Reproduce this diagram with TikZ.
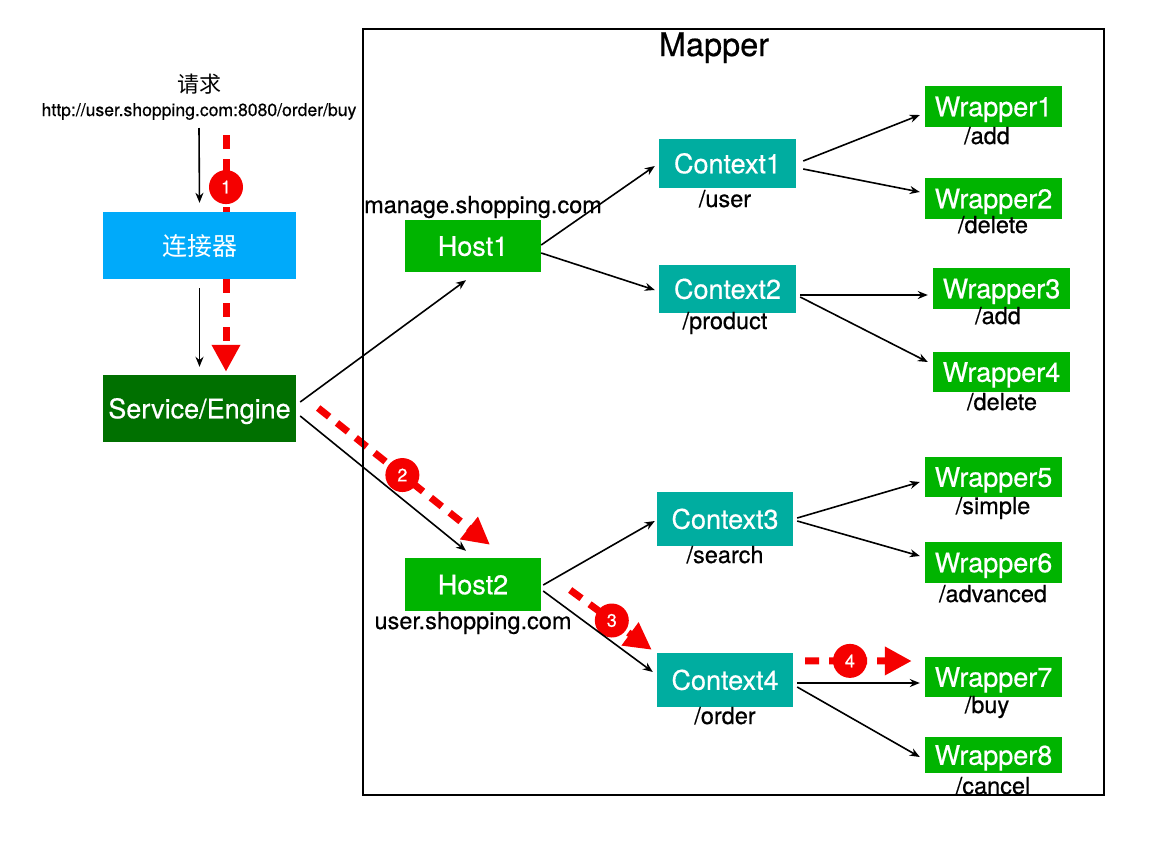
\documentclass[tikz,border=0pt]{standalone}
\usepackage{fontspec}
\setmainfont{TeX Gyre Heros}[BoldFont=TeX Gyre Heros, BoldFeatures={FakeBold=0.5}]
\newfontfamily\cjk{Noto Sans CJK SC}
\usetikzlibrary{arrows.meta,calc}
\pgfdeclarelayer{bg}
\pgfsetlayers{bg,main}
\definecolor{connblue}{RGB}{0,170,250}
\definecolor{segreen}{RGB}{0,112,0}
\definecolor{hostgreen}{RGB}{0,180,0}
\definecolor{ctxteal}{RGB}{0,173,160}
\definecolor{flowred}{RGB}{245,0,0}
\begin{document}
\begin{tikzpicture}[x=1pt,y=-1pt,
  box/.style={draw=none, text=white, inner sep=0pt, font=\fontsize{27}{32}\selectfont\bfseries, text height=19.5pt, text depth=0pt},
  bigbox/.style={box, minimum width=193pt, minimum height=67pt},
  hostbox/.style={box, fill=hostgreen, minimum width=136pt, minimum height=52pt},
  ctxbox/.style={box, fill=ctxteal, minimum width=137pt, minimum height=50pt},
  wrapbox/.style={box, fill=hostgreen, minimum width=137pt, minimum height=40pt},
  lbl/.style={font=\fontsize{23.5}{28}\selectfont\bfseries, anchor=base, inner sep=0pt},
  arr/.style={line width=1.6pt, -{Stealth[length=10pt,width=8pt]}},
  redflow/.style={draw=flowred, line width=7pt, dash pattern=on 14pt off 10pt, -{Triangle[length=27pt,width=27pt]}},
  num/.style={circle, fill=flowred, text=white, minimum size=34pt, inner sep=0pt, font=\fontsize{18}{18}\selectfont\bfseries}
]
\path[use as bounding box] (0,0) rectangle (1162,844);

% Mapper frame
\node[draw, line width=2pt, minimum width=741pt, minimum height=766pt, inner sep=0pt] (mapper) at (733.5,412) {};
\node[font=\fontsize{32.5}{36}\selectfont\bfseries, anchor=base, inner sep=0pt] (mtitle) at (714,56) {Mapper};

% request
\node[font=\cjk\fontsize{22}{26}\selectfont, anchor=base, inner sep=0pt] (req) at (199,92) {请求};
\node[font=\fontsize{17.6}{20}\selectfont\bfseries, anchor=base, inner sep=0pt] (url) at (199,116) {http://user.shopping.com:8080/order/buy};
\coordinate (reqend) at (199,128);
\coordinate (redstart) at (226,135);

% boxes
\node[bigbox, fill=connblue, font=\cjk\fontsize{25}{30}\selectfont, text height=20pt] (conn) at (199.5,245.5) {连接器};
\node[bigbox, fill=segreen] (se) at (199.5,408.5) {Service/Engine};

\node[hostbox] (host1) at (473,246) {Host1};
\node[hostbox, minimum height=53pt] (host2) at (473,584.5) {Host2};
\node[lbl] (h1l) at (483,213) {manage.shopping.com};
\node[lbl] (h2l) at (473,629) {user.shopping.com};

\node[ctxbox, minimum height=49pt] (ctx1) at (727.5,163.5) {Context1};
\node[ctxbox, minimum height=48pt] (ctx2) at (727.5,289) {Context2};
\node[ctxbox, minimum width=136pt, minimum height=54pt] (ctx3) at (725,519) {Context3};
\node[ctxbox, minimum width=136pt, minimum height=54pt] (ctx4) at (725,680) {Context4};
\node[lbl] (c1l) at (725,207) {/user};
\node[lbl] (c2l) at (725,329) {/product};
\node[lbl] (c3l) at (725,563) {/search};
\node[lbl] (c4l) at (725,724) {/order};

\node[wrapbox, minimum height=41pt] (w1) at (993.5,106.5) {Wrapper1};
\node[wrapbox, minimum height=41pt] (w2) at (993.5,198.5) {Wrapper2};
\node[wrapbox, minimum height=41pt] (w3) at (1001.5,288.5) {Wrapper3};
\node[wrapbox] (w4) at (1001.5,372) {Wrapper4};
\node[wrapbox] (w5) at (993.5,477) {Wrapper5};
\node[wrapbox, minimum height=41pt] (w6) at (993.5,562.5) {Wrapper6};
\node[wrapbox] (w7) at (993.5,677) {Wrapper7};
\node[wrapbox, minimum height=36pt] (w8) at (993.5,755) {Wrapper8};
\node[lbl] (w1l) at (987,144) {/add};
\node[lbl] (w2l) at (993,233) {/delete};
\node[lbl] (w3l) at (998,324) {/add};
\node[lbl] (w4l) at (1002,410) {/delete};
\node[lbl] (w5l) at (993,514) {/simple};
\node[lbl] (w6l) at (993,602) {/advanced};
\node[lbl] (w7l) at (987,713) {/buy};
\node[lbl] (w8l) at (993,794) {/cancel};

% black connectors
\draw[arr] (reqend) -- ($(conn.north)+(0,-9)$);
\draw[arr] ($(conn.south)+(0,9)$) -- ($(se.north)+(0,-8)$);
\draw[arr] ($(se.east)+(4,-6.5)$) -- ($(host1.south)+(-7,8)$);
\draw[arr] ($(se.east)+(4,7.5)$) -- ($(host2.north)+(-7,-7)$);
\draw[arr] ($(host1.east)+(0,-1)$) -- ($(ctx1.west)+(-4,2.5)$);
\draw[arr] ($(host1.east)+(0,7)$) -- ($(ctx2.west)+(-4,1)$);
\draw[arr] ($(ctx1.east)+(7,-2.5)$) -- ($(w1.west)+(-5,8.5)$);
\draw[arr] ($(ctx1.east)+(7,5.5)$) -- ($(w2.west)+(-5,-6.5)$);
\draw[arr] ($(ctx2.east)+(4,6)$) -- ($(w3.west)+(-5,6.5)$);
\draw[arr] ($(ctx2.east)+(4,8)$) -- ($(w4.west)+(-5,-10)$);
\draw[arr] ($(host2.east)+(2,0.5)$) -- ($(ctx3.west)+(-2,2)$);
\draw[arr] ($(host2.east)+(2,6.5)$) -- ($(ctx4.west)+(-4,-8)$);
\draw[arr] ($(ctx3.east)+(4,-1)$) -- ($(w5.west)+(-5,5)$);
\draw[arr] ($(ctx3.east)+(4,2)$) -- ($(w6.west)+(-5,-6.5)$);
\draw[arr] ($(ctx4.east)+(4,3)$) -- ($(w7.west)+(-5,6)$);
\draw[arr] ($(ctx4.east)+(4,7)$) -- ($(w8.west)+(-5,2)$);

% red flow
\begin{pgfonlayer}{bg}
\draw[redflow] (redstart) -- node[num, pos=0.22] (n1) {1} ($(se.north)+(26.5,-3)$);
\draw[redflow] ($(se.east)+(22,-0.5)$) -- node[num, pos=0.49] (n2) {2} ($(host2.north)+(17,-13)$);
\draw[redflow] ($(host2.east)+(29,5.5)$) -- node[num, pos=0.51] (n3) {3} ($(ctx4.north west)+(-5,-3)$);
\draw[redflow] ($(ctx4.north east)+(12,8)$) -- node[num, pos=0.42] (n4) {4} ($(w7.west)+(-13,-16)$);
\end{pgfonlayer}
\end{tikzpicture}
\end{document}
